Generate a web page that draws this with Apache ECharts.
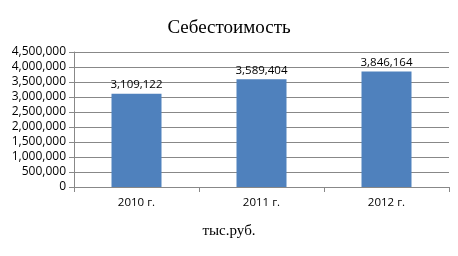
<!DOCTYPE html>
<html><head><meta charset="utf-8">
<script src="https://cdn.jsdelivr.net/npm/echarts@6/dist/echarts.min.js"></script>
<style>html,body{margin:0;padding:0;background:#fff}#c{width:458px;height:256px}</style>
</head><body><div id="c"></div>
<script>
const categories = ['2010 г.', '2011 г.', '2012 г.'];
const values = [3109122, 3589404, 3846164];
const titleText = 'Себестоимость';
const axisTitle = 'тыс.руб.';

const chart = echarts.init(document.getElementById('c'), null, {renderer: 'canvas'});
const fmt = v => String(v).replace(/\B(?=(\d{3})+(?!\d))/g, ',');
chart.setOption({
  animation: false,
  title: [
    {text: titleText, left: 'center', top: 14, textStyle: {fontFamily: 'Liberation Serif', fontSize: 19, fontWeight: 'normal', color: '#000'}},
    {text: axisTitle, left: 'center', top: 219, textStyle: {fontFamily: 'Liberation Serif', fontSize: 15, fontWeight: 'normal', color: '#000'}}
  ],
  grid: {left: 74, right: 9, top: 52, bottom: 69, containLabel: false},
  xAxis: {
    type: 'category', data: categories,
    axisLine: {lineStyle: {color: '#888'}},
    axisTick: {show: true, length: 5, lineStyle: {color: '#888'}},
    axisLabel: {fontFamily: 'Open Sans', fontSize: 11.5, color: '#000', margin: 10}
  },
  yAxis: {
    type: 'value', min: 0, max: 4500000, interval: 500000,
    axisLine: {show: true, lineStyle: {color: '#888'}},
    axisTick: {show: true, length: 5, lineStyle: {color: '#888'}},
    splitLine: {lineStyle: {color: '#888'}},
    axisLabel: {fontFamily: 'Open Sans', fontSize: 12, color: '#000', margin: 8, formatter: fmt}
  },
  series: [{
    type: 'bar', data: values, barWidth: '40%',
    itemStyle: {color: '#4F81BD'},
    label: {show: true, position: 'top', fontFamily: 'Open Sans', fontSize: 11.5, color: '#000', formatter: p => fmt(p.value), distance: 3}
  }]
});
</script></body></html>
